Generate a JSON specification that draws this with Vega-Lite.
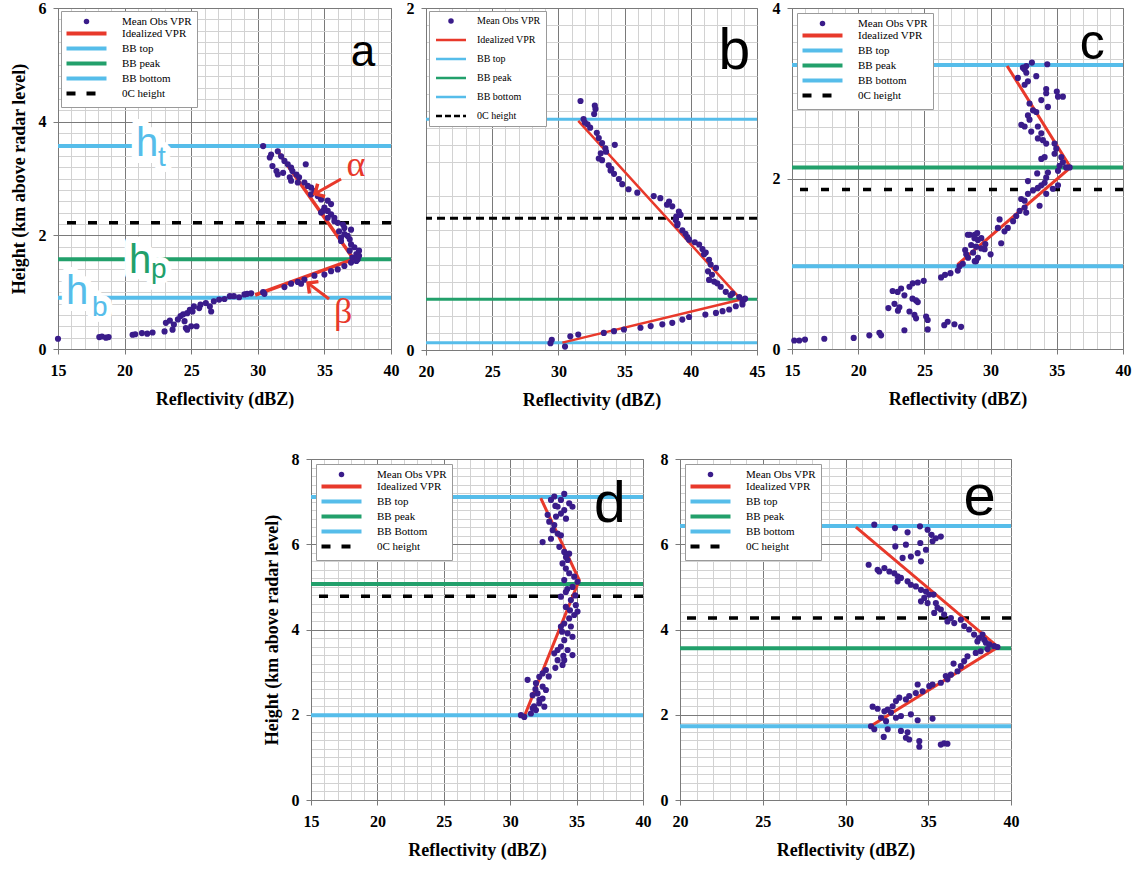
{
"$schema": "https://vega.github.io/schema/vega-lite/v6.json",
"background": "white",
"padding": {"left": 9, "top": -1, "right": 0, "bottom": 0},
"datasets": {
"pts_a": [{"x":15.0,"y":0.18},{"x":18.1,"y":0.21},{"x":18.3,"y":0.22},{"x":18.6,"y":0.20},{"x":18.8,"y":0.21},{"x":20.6,"y":0.25},{"x":20.8,"y":0.26},{"x":21.3,"y":0.28},{"x":21.7,"y":0.27},{"x":22.1,"y":0.29},{"x":23.0,"y":0.31},{"x":23.1,"y":0.46},{"x":23.4,"y":0.50},{"x":23.7,"y":0.43},{"x":23.6,"y":0.34},{"x":24.0,"y":0.52},{"x":24.2,"y":0.58},{"x":24.5,"y":0.49},{"x":24.6,"y":0.37},{"x":24.7,"y":0.34},{"x":25.0,"y":0.40},{"x":25.4,"y":0.40},{"x":24.4,"y":0.61},{"x":24.7,"y":0.63},{"x":24.9,"y":0.69},{"x":25.1,"y":0.66},{"x":25.2,"y":0.75},{"x":25.6,"y":0.72},{"x":25.7,"y":0.78},{"x":26.1,"y":0.81},{"x":26.4,"y":0.75},{"x":26.5,"y":0.66},{"x":26.7,"y":0.84},{"x":27.1,"y":0.87},{"x":27.5,"y":0.88},{"x":27.9,"y":0.93},{"x":28.2,"y":0.93},{"x":28.6,"y":0.91},{"x":29.0,"y":0.96},{"x":29.2,"y":0.97},{"x":29.5,"y":0.98},{"x":30.4,"y":1.0},{"x":30.5,"y":0.97},{"x":32.0,"y":1.09},{"x":32.5,"y":1.15},{"x":33.0,"y":1.18},{"x":33.25,"y":1.15},{"x":33.5,"y":1.22},{"x":34.25,"y":1.29},{"x":35.0,"y":1.31},{"x":35.5,"y":1.37},{"x":36.0,"y":1.40},{"x":36.5,"y":1.46},{"x":37.0,"y":1.52},{"x":37.1,"y":1.61},{"x":37.4,"y":1.67},{"x":37.6,"y":1.73},{"x":37.25,"y":1.79},{"x":37.0,"y":1.84},{"x":36.9,"y":1.93},{"x":36.75,"y":1.99},{"x":36.5,"y":2.02},{"x":36.25,"y":1.96},{"x":36.1,"y":2.07},{"x":36.5,"y":2.13},{"x":37.0,"y":2.10},{"x":36.4,"y":2.19},{"x":36.0,"y":2.22},{"x":35.75,"y":2.31},{"x":35.5,"y":2.37},{"x":35.25,"y":2.43},{"x":35.0,"y":2.49},{"x":35.5,"y":2.55},{"x":35.25,"y":2.61},{"x":34.9,"y":2.43},{"x":34.75,"y":2.63},{"x":34.5,"y":2.69},{"x":34.25,"y":2.78},{"x":34.0,"y":2.84},{"x":33.75,"y":2.87},{"x":33.5,"y":2.93},{"x":33.1,"y":3.02},{"x":32.9,"y":3.07},{"x":32.6,"y":3.13},{"x":32.5,"y":3.19},{"x":32.25,"y":3.25},{"x":32.0,"y":3.31},{"x":31.75,"y":3.39},{"x":31.5,"y":3.48},{"x":31.0,"y":3.42},{"x":30.9,"y":3.37},{"x":31.1,"y":3.22},{"x":31.5,"y":3.07},{"x":31.4,"y":3.13},{"x":31.9,"y":3.10},{"x":32.4,"y":3.02},{"x":33.6,"y":3.25},{"x":30.4,"y":3.57},{"x":32.5,"y":2.96},{"x":33.0,"y":2.93},{"x":34.0,"y":2.72},{"x":34.75,"y":2.40},{"x":35.25,"y":2.31},{"x":35.75,"y":2.25},{"x":36.25,"y":1.90},{"x":36.9,"y":1.73},{"x":37.5,"y":1.58},{"x":37.6,"y":1.64},{"x":37.4,"y":1.55}],
"vpr_a": [{"x":31.4,"y":3.51},{"x":37.2,"y":1.58},{"x":29.8,"y":0.95}],
"lines_a": [{"series":"BB top","y":3.57},{"series":"BB peak","y":1.58},{"series":"BB bottom","y":0.90},{"series":"0C height","y":2.22}],
"pts_b": [{"x":31.67,"y":1.456},{"x":32.75,"y":1.43},{"x":32.8,"y":1.41},{"x":32.7,"y":1.38},{"x":31.9,"y":1.35},{"x":32.0,"y":1.33},{"x":32.4,"y":1.30},{"x":32.9,"y":1.27},{"x":33.05,"y":1.24},{"x":33.3,"y":1.21},{"x":33.55,"y":1.18},{"x":34.26,"y":1.20},{"x":33.2,"y":1.15},{"x":33.05,"y":1.12},{"x":33.3,"y":1.11},{"x":33.8,"y":1.08},{"x":33.94,"y":1.05},{"x":34.2,"y":1.03},{"x":34.57,"y":1.00},{"x":34.82,"y":0.97},{"x":35.3,"y":0.94},{"x":35.96,"y":0.92},{"x":37.2,"y":0.90},{"x":37.7,"y":0.888},{"x":38.36,"y":0.868},{"x":38.6,"y":0.84},{"x":39.1,"y":0.81},{"x":39.23,"y":0.79},{"x":38.86,"y":0.76},{"x":38.98,"y":0.73},{"x":39.36,"y":0.70},{"x":39.74,"y":0.66},{"x":39.87,"y":0.645},{"x":40.63,"y":0.617},{"x":40.88,"y":0.59},{"x":41.13,"y":0.57},{"x":41.38,"y":0.528},{"x":41.5,"y":0.50},{"x":41.9,"y":0.48},{"x":41.6,"y":0.44},{"x":41.38,"y":0.41},{"x":41.76,"y":0.40},{"x":42.26,"y":0.37},{"x":42.64,"y":0.34},{"x":43.15,"y":0.33},{"x":43.66,"y":0.31},{"x":44.0,"y":0.295},{"x":43.9,"y":0.266},{"x":43.4,"y":0.256},{"x":42.9,"y":0.237},{"x":42.4,"y":0.227},{"x":41.9,"y":0.217},{"x":41.1,"y":0.207},{"x":39.87,"y":0.193},{"x":39.36,"y":0.178},{"x":38.6,"y":0.159},{"x":37.85,"y":0.15},{"x":36.97,"y":0.14},{"x":36.2,"y":0.13},{"x":34.95,"y":0.12},{"x":34.2,"y":0.11},{"x":33.43,"y":0.10},{"x":31.5,"y":0.09},{"x":30.9,"y":0.08},{"x":29.5,"y":0.06},{"x":29.4,"y":0.04},{"x":30.5,"y":0.02},{"x":32.2,"y":1.32},{"x":33.6,"y":1.16},{"x":34.0,"y":1.06},{"x":38.2,"y":0.85},{"x":39.6,"y":0.68},{"x":40.3,"y":0.63},{"x":41.0,"y":0.56},{"x":41.3,"y":0.46},{"x":42.0,"y":0.39},{"x":43.0,"y":0.32},{"x":43.9,"y":0.28},{"x":44.1,"y":0.30},{"x":39.0,"y":0.74},{"x":38.9,"y":0.78}],
"vpr_b": [{"x":31.5,"y":1.34},{"x":43.8,"y":0.295},{"x":30.3,"y":0.043}],
"lines_b": [{"series":"BB top","y":1.35},{"series":"BB peak","y":0.297},{"series":"BB bottom","y":0.043},{"series":"0C height","y":0.77}],
"pts_c": [{"x":15.17,"y":0.10},{"x":15.55,"y":0.10},{"x":15.98,"y":0.11},{"x":17.44,"y":0.12},{"x":19.66,"y":0.13},{"x":20.84,"y":0.16},{"x":21.6,"y":0.19},{"x":21.73,"y":0.16},{"x":23.49,"y":0.22},{"x":25.25,"y":0.23},{"x":25.25,"y":0.34},{"x":25.13,"y":0.38},{"x":24.25,"y":0.40},{"x":24.37,"y":0.36},{"x":23.87,"y":0.44},{"x":23.0,"y":0.45},{"x":23.11,"y":0.49},{"x":22.74,"y":0.53},{"x":22.28,"y":0.48},{"x":24.37,"y":0.57},{"x":24.1,"y":0.59},{"x":24.5,"y":0.55},{"x":23.49,"y":0.63},{"x":22.98,"y":0.67},{"x":22.6,"y":0.68},{"x":23.24,"y":0.71},{"x":23.87,"y":0.73},{"x":24.12,"y":0.77},{"x":24.5,"y":0.78},{"x":24.95,"y":0.80},{"x":26.5,"y":0.28},{"x":26.76,"y":0.32},{"x":27.27,"y":0.29},{"x":27.77,"y":0.26},{"x":26.26,"y":0.84},{"x":26.56,"y":0.87},{"x":26.97,"y":0.89},{"x":27.52,"y":0.92},{"x":27.65,"y":0.97},{"x":27.9,"y":1.0},{"x":28.3,"y":1.07},{"x":28.68,"y":1.13},{"x":28.43,"y":1.34},{"x":28.8,"y":1.34},{"x":29.04,"y":1.28},{"x":29.3,"y":1.30},{"x":28.9,"y":1.03},{"x":29.55,"y":1.17},{"x":28.28,"y":1.34},{"x":28.99,"y":1.36},{"x":28.78,"y":1.30},{"x":28.53,"y":1.22},{"x":28.08,"y":1.16},{"x":28.16,"y":1.11},{"x":28.9,"y":1.20},{"x":29.29,"y":1.18},{"x":29.6,"y":1.23},{"x":30.0,"y":1.11},{"x":28.8,"y":1.03},{"x":29.04,"y":1.07},{"x":30.68,"y":1.52},{"x":30.8,"y":1.24},{"x":30.55,"y":1.42},{"x":31.05,"y":1.38},{"x":31.3,"y":1.42},{"x":31.7,"y":1.50},{"x":31.94,"y":1.56},{"x":32.19,"y":1.62},{"x":32.57,"y":1.66},{"x":32.69,"y":1.60},{"x":32.31,"y":1.76},{"x":32.57,"y":1.74},{"x":32.82,"y":1.82},{"x":33.7,"y":1.68},{"x":33.2,"y":1.86},{"x":33.57,"y":1.89},{"x":33.83,"y":1.92},{"x":34.08,"y":1.95},{"x":34.2,"y":2.01},{"x":34.33,"y":2.07},{"x":34.2,"y":1.82},{"x":34.7,"y":1.88},{"x":35.09,"y":1.92},{"x":32.82,"y":1.97},{"x":33.52,"y":2.06},{"x":35.09,"y":2.09},{"x":35.21,"y":2.15},{"x":35.46,"y":2.19},{"x":35.7,"y":2.13},{"x":35.97,"y":2.13},{"x":35.34,"y":2.25},{"x":34.83,"y":2.29},{"x":34.96,"y":2.35},{"x":34.83,"y":2.41},{"x":34.08,"y":2.25},{"x":33.83,"y":2.23},{"x":34.2,"y":2.41},{"x":33.95,"y":2.45},{"x":33.57,"y":2.47},{"x":33.83,"y":2.53},{"x":33.07,"y":2.55},{"x":33.57,"y":2.61},{"x":32.57,"y":2.61},{"x":32.32,"y":2.63},{"x":32.94,"y":2.69},{"x":32.82,"y":2.74},{"x":33.45,"y":2.78},{"x":33.2,"y":2.80},{"x":32.94,"y":2.88},{"x":33.83,"y":2.92},{"x":34.33,"y":2.84},{"x":35.09,"y":2.96},{"x":35.46,"y":2.96},{"x":35.0,"y":3.02},{"x":34.2,"y":3.0},{"x":34.2,"y":3.05},{"x":32.57,"y":3.10},{"x":32.82,"y":3.14},{"x":32.06,"y":3.18},{"x":33.45,"y":3.20},{"x":32.7,"y":3.24},{"x":32.57,"y":3.28},{"x":32.7,"y":3.32},{"x":32.44,"y":3.30},{"x":33.12,"y":3.36},{"x":34.28,"y":3.34}],
"vpr_c": [{"x":31.25,"y":3.32},{"x":36.04,"y":2.13},{"x":27.5,"y":0.99}],
"lines_c": [{"series":"BB top","y":3.33},{"series":"BB peak","y":2.13},{"series":"BB bottom","y":0.97},{"series":"0C height","y":1.87}],
"pts_d": [{"x":33.32,"y":7.12},{"x":34.07,"y":7.18},{"x":33.82,"y":7.04},{"x":34.44,"y":6.96},{"x":34.69,"y":6.88},{"x":33.07,"y":7.04},{"x":33.57,"y":6.88},{"x":34.07,"y":6.80},{"x":33.82,"y":6.72},{"x":33.45,"y":6.65},{"x":32.82,"y":6.69},{"x":32.94,"y":6.53},{"x":33.32,"y":6.45},{"x":33.2,"y":6.33},{"x":33.57,"y":6.25},{"x":33.82,"y":6.21},{"x":33.07,"y":6.13},{"x":32.44,"y":6.05},{"x":33.7,"y":5.94},{"x":34.07,"y":5.82},{"x":34.44,"y":5.78},{"x":34.32,"y":5.63},{"x":33.94,"y":5.55},{"x":34.19,"y":5.43},{"x":34.44,"y":5.32},{"x":34.82,"y":5.24},{"x":35.07,"y":5.12},{"x":34.69,"y":5.00},{"x":34.07,"y":5.16},{"x":34.19,"y":4.88},{"x":33.82,"y":4.77},{"x":34.57,"y":4.69},{"x":34.94,"y":4.57},{"x":35.07,"y":4.42},{"x":34.82,"y":4.34},{"x":34.44,"y":4.26},{"x":34.19,"y":4.53},{"x":34.07,"y":4.14},{"x":34.57,"y":4.07},{"x":33.82,"y":4.07},{"x":34.32,"y":3.91},{"x":34.69,"y":3.83},{"x":34.07,"y":3.75},{"x":33.82,"y":3.60},{"x":33.57,"y":3.52},{"x":34.32,"y":3.52},{"x":34.69,"y":3.40},{"x":33.32,"y":3.44},{"x":33.57,"y":3.28},{"x":34.07,"y":3.28},{"x":33.94,"y":3.17},{"x":32.69,"y":3.05},{"x":32.44,"y":2.97},{"x":32.19,"y":2.89},{"x":31.31,"y":2.82},{"x":31.94,"y":2.74},{"x":32.44,"y":2.66},{"x":32.69,"y":2.58},{"x":32.06,"y":2.50},{"x":31.69,"y":2.46},{"x":32.44,"y":2.38},{"x":32.19,"y":2.27},{"x":32.57,"y":2.19},{"x":31.94,"y":2.11},{"x":31.56,"y":2.03},{"x":31.06,"y":1.95},{"x":30.81,"y":1.99},{"x":31.69,"y":2.15},{"x":34.3,"y":4.95},{"x":34.9,"y":4.8},{"x":34.5,"y":4.45},{"x":33.9,"y":3.95},{"x":34.0,"y":3.38},{"x":33.4,"y":3.1},{"x":32.9,"y":2.9},{"x":31.9,"y":2.6},{"x":32.2,"y":2.35},{"x":31.8,"y":2.2},{"x":34.2,"y":5.7},{"x":33.4,"y":6.9},{"x":34.2,"y":6.6}],
"vpr_d": [{"x":32.3,"y":7.08},{"x":35.2,"y":5.16},{"x":31.1,"y":1.99}],
"lines_d": [{"series":"BB top","y":7.11},{"series":"BB peak","y":5.07},{"series":"BB Bottom","y":1.99},{"series":"0C height","y":4.78}],
"pts_e": [{"x":31.74,"y":6.46},{"x":32.99,"y":6.38},{"x":33.75,"y":6.28},{"x":34.5,"y":6.42},{"x":34.96,"y":6.34},{"x":35.2,"y":6.22},{"x":35.46,"y":6.14},{"x":35.76,"y":6.18},{"x":35.26,"y":6.07},{"x":33.01,"y":5.95},{"x":33.65,"y":5.99},{"x":34.52,"y":6.03},{"x":34.86,"y":5.87},{"x":34.36,"y":5.79},{"x":33.95,"y":5.71},{"x":33.45,"y":5.68},{"x":34.56,"y":5.6},{"x":31.4,"y":5.52},{"x":31.94,"y":5.40},{"x":32.04,"y":5.36},{"x":32.35,"y":5.44},{"x":32.65,"y":5.36},{"x":32.95,"y":5.32},{"x":33.15,"y":5.25},{"x":33.35,"y":5.21},{"x":33.15,"y":5.13},{"x":33.75,"y":5.13},{"x":33.95,"y":5.05},{"x":34.25,"y":5.01},{"x":34.56,"y":4.93},{"x":34.86,"y":4.89},{"x":35.06,"y":4.82},{"x":35.32,"y":4.82},{"x":34.76,"y":4.74},{"x":34.56,"y":4.66},{"x":34.96,"y":4.62},{"x":35.46,"y":4.62},{"x":35.56,"y":4.51},{"x":35.76,"y":4.47},{"x":35.36,"y":4.39},{"x":35.96,"y":4.35},{"x":36.37,"y":4.27},{"x":36.16,"y":4.19},{"x":36.57,"y":4.15},{"x":36.97,"y":4.23},{"x":37.17,"y":4.08},{"x":37.47,"y":4.0},{"x":37.77,"y":3.88},{"x":38.07,"y":3.80},{"x":38.28,"y":3.88},{"x":38.38,"y":3.76},{"x":37.97,"y":3.72},{"x":38.48,"y":3.69},{"x":38.68,"y":3.65},{"x":38.98,"y":3.61},{"x":39.18,"y":3.59},{"x":38.58,"y":3.54},{"x":38.17,"y":3.49},{"x":37.87,"y":3.45},{"x":37.37,"y":3.37},{"x":37.17,"y":3.26},{"x":36.97,"y":3.14},{"x":36.53,"y":3.20},{"x":36.77,"y":3.02},{"x":36.37,"y":2.94},{"x":36.06,"y":2.91},{"x":36.16,"y":2.83},{"x":35.76,"y":2.75},{"x":35.26,"y":2.71},{"x":35.06,"y":2.67},{"x":34.36,"y":2.71},{"x":34.66,"y":2.55},{"x":34.25,"y":2.51},{"x":33.85,"y":2.44},{"x":33.65,"y":2.36},{"x":33.25,"y":2.40},{"x":33.05,"y":2.32},{"x":32.85,"y":2.20},{"x":32.55,"y":2.12},{"x":32.75,"y":2.05},{"x":32.35,"y":2.08},{"x":31.94,"y":2.14},{"x":31.64,"y":2.19},{"x":33.05,"y":1.93},{"x":33.35,"y":1.97},{"x":33.95,"y":2.01},{"x":34.36,"y":1.87},{"x":35.26,"y":1.91},{"x":32.45,"y":1.85},{"x":32.15,"y":1.93},{"x":31.54,"y":1.73},{"x":31.74,"y":1.66},{"x":32.55,"y":1.66},{"x":32.31,"y":1.48},{"x":33.35,"y":1.62},{"x":33.75,"y":1.59},{"x":33.65,"y":1.46},{"x":33.85,"y":1.42},{"x":34.46,"y":1.38},{"x":34.46,"y":1.25},{"x":35.76,"y":1.30},{"x":35.96,"y":1.33},{"x":36.16,"y":1.32}],
"vpr_e": [{"x":30.63,"y":6.40},{"x":39.22,"y":3.59},{"x":31.58,"y":1.75}],
"lines_e": [{"series":"BB top","y":6.43},{"series":"BB peak","y":3.56},{"series":"BB bottom","y":1.73},{"series":"0C height","y":4.27}],
"tags": [{"panel":"a","x":37.9,"y":4.98,"t":"a"},{"panel":"b","x":43.28,"y":1.644,"t":"b"},{"panel":"c","x":37.67,"y":3.40,"t":"c"},{"panel":"d","x":37.5,"y":6.52,"t":"d"},{"panel":"e","x":38.11,"y":6.69,"t":"e"}],
"hmain": [{"x":20.86,"y":3.396,"t":"h","series":"BB top"},{"x":20.33,"y":1.337,"t":"h","series":"BB peak"},{"x":15.6,"y":0.79,"t":"h","series":"BB bottom"}],
"hsub": [{"x":22.51,"y":3.22,"t":"t","series":"BB top"},{"x":21.98,"y":1.25,"t":"p","series":"BB peak"},{"x":17.55,"y":0.58,"t":"b","series":"BB bottom"}],
"arrows": [{"name":"alpha","x":36.25,"y":2.99,"x2":34.29,"y2":2.73,"tx":37.37,"ty":3.04,"t":"α"},{"name":"beta","x":35.35,"y":0.88,"x2":33.77,"y2":1.16,"tx":36.4,"ty":0.46,"t":"β"}]
},
"spacing": 40,
"resolve": {"scale": {"color": "independent"}, "legend": {"color": "independent"}},
"vconcat": [
{"hconcat": [
{"width": 333, "height": 341,
 "layer": [
  {"data": {"name": "pts_a"}, "mark": {"type": "point", "opacity": 0},
   "encoding": {"x": {"field": "x", "type": "quantitative", "scale": {"domain": [15, 40], "nice": false, "zero": false}, "axis": {"orient": "top", "values": [16,17,18,19,21,22,23,24,26,27,28,29,31,32,33,34,36,37,38,39], "grid": true, "gridColor": "#d2d2d2", "labels": false, "ticks": false, "domain": false, "title": null}},
    "y": {"field": "y", "type": "quantitative", "scale": {"domain": [0, 6], "nice": false, "zero": false}, "axis": {"orient": "right", "values": [0.2,0.4,0.6,0.8,1,1.2,1.4,1.6,1.8,2.2,2.4,2.6,2.8,3,3.2,3.4,3.6,3.8,4.2,4.4,4.6,4.8,5,5.2,5.4,5.6,5.8], "grid": true, "gridColor": "#d2d2d2", "labels": false, "ticks": false, "domain": false, "title": null}}}},
  {"data": {"name": "lines_a"}, "transform": [{"filter": "datum.series !== '0C height'"}], "mark": {"type": "rule", "strokeWidth": 4},
   "encoding": {"y": {"field": "y", "type": "quantitative", "axis": null}, "color": {"field": "series", "type": "nominal", "scale": {"domain": ["Mean Obs VPR","Idealized VPR","BB top","BB peak","BB bottom","0C height"], "range": ["#3a1c8a","#e8392b","#56bdea","#22a06b","#56bdea","#000000"]},
     "legend": {"orient":"top-left","offset":3,"title":null,"padding":5,"rowPadding":-2,"fillColor":"#ffffff","strokeColor":"#9a9a9a","labelFont":"Liberation Serif","labelFontSize":11,"labelColor":"#000000","symbolSize":100,"symbolOffset":15,"labelOffset":30,
      "encode":{"symbols":{"update":{"shape":{"signal":"datum.value==='Mean Obs VPR'?'circle':'M-4,0H4'"},"size":{"signal":"datum.value==='Mean Obs VPR'?30:100"},"fill":{"signal":"datum.value==='Mean Obs VPR'?'#3a1c8a':'transparent'"},"stroke":{"signal":"datum.value==='Mean Obs VPR'?'transparent':datum.value==='Idealized VPR'?'#e8392b':datum.value==='BB peak'?'#22a06b':datum.value==='0C height'?'#000000':'#56bdea'"},"strokeWidth":{"signal":"datum.value==='Mean Obs VPR'?0:4"},"strokeDash":{"signal":"datum.value==='0C height'?[9,11]:[1,0]"},"opacity":{"value":1}}}}}}}},
  {"data": {"name": "lines_a"}, "transform": [{"filter": "datum.series === '0C height'"}], "mark": {"type": "rule", "strokeWidth": 3.5, "strokeDash": [9, 12]},
   "encoding": {"y": {"field": "y", "type": "quantitative", "axis": null}, "color": {"field": "series", "type": "nominal"}}},
  {"data": {"name": "vpr_a"}, "mark": {"type": "line", "strokeWidth": 3.5},
   "encoding": {"x": {"field": "x", "type": "quantitative", "axis": null}, "y": {"field": "y", "type": "quantitative", "axis": null}, "order": {"field": "y", "type": "quantitative"}, "color": {"datum": "Idealized VPR", "type": "nominal"}}},
  {"data": {"name": "pts_a"}, "mark": {"type": "point", "filled": true, "size": 38, "opacity": 1},
   "encoding": {"x": {"field": "x", "type": "quantitative", "axis": {"values": [15,20,25,30,35,40], "format": "d", "grid": true, "title": "Reflectivity (dBZ)"}},
    "y": {"field": "y", "type": "quantitative", "axis": {"values": [0,2,4,6], "format": "d", "grid": true, "title": "Height (km above radar level)"}},
    "color": {"datum": "Mean Obs VPR", "type": "nominal"}}},
  {"data": {"name": "hmain"}, "mark": {"type": "text", "font": "Liberation Sans", "fontSize": 40, "align": "left", "baseline": "alphabetic", "fill": "white", "stroke": "white", "strokeWidth": 14, "strokeJoin": "round"},
   "encoding": {"x": {"field": "x", "type": "quantitative", "axis": null}, "y": {"field": "y", "type": "quantitative", "axis": null}, "text": {"field": "t"}}},
  {"data": {"name": "hsub"}, "mark": {"type": "text", "font": "Liberation Sans", "fontSize": 28, "align": "left", "baseline": "alphabetic", "fill": "white", "stroke": "white", "strokeWidth": 12, "strokeJoin": "round"},
   "encoding": {"x": {"field": "x", "type": "quantitative", "axis": null}, "y": {"field": "y", "type": "quantitative", "axis": null}, "text": {"field": "t"}}},
  {"data": {"name": "hmain"}, "mark": {"type": "text", "font": "Liberation Sans", "fontSize": 40, "align": "left", "baseline": "alphabetic"},
   "encoding": {"x": {"field": "x", "type": "quantitative", "axis": null}, "y": {"field": "y", "type": "quantitative", "axis": null}, "text": {"field": "t"}, "color": {"field": "series", "type": "nominal", "legend": null}}},
  {"data": {"name": "hsub"}, "mark": {"type": "text", "font": "Liberation Sans", "fontSize": 28, "align": "left", "baseline": "alphabetic"},
   "encoding": {"x": {"field": "x", "type": "quantitative", "axis": null}, "y": {"field": "y", "type": "quantitative", "axis": null}, "text": {"field": "t"}, "color": {"field": "series", "type": "nominal", "legend": null}}},
  {"data": {"name": "arrows"}, "mark": {"type": "rule", "color": "#e8392b", "strokeWidth": 3},
   "encoding": {"x": {"field": "x", "type": "quantitative", "axis": null}, "y": {"field": "y", "type": "quantitative", "axis": null}, "x2": {"field": "x2"}, "y2": {"field": "y2"}}},
  {"data": {"name": "arrows"}, "transform": [{"filter": "datum.name === 'alpha'"}], "mark": {"type": "point", "shape": "M-1,1L0,0L1,1", "filled": false, "color": "#e8392b", "strokeWidth": 3.5, "size": 220, "angle": 240, "opacity": 1},
   "encoding": {"x": {"field": "x2", "type": "quantitative", "axis": null}, "y": {"field": "y2", "type": "quantitative", "axis": null}}},
  {"data": {"name": "arrows"}, "transform": [{"filter": "datum.name === 'beta'"}], "mark": {"type": "point", "shape": "M-1,1L0,0L1,1", "filled": false, "color": "#e8392b", "strokeWidth": 3.5, "size": 220, "angle": 307, "opacity": 1},
   "encoding": {"x": {"field": "x2", "type": "quantitative", "axis": null}, "y": {"field": "y2", "type": "quantitative", "axis": null}}},
  {"data": {"name": "arrows"}, "mark": {"type": "text", "font": "Liberation Serif", "fontSize": 36, "align": "center", "baseline": "alphabetic", "color": "#e8392b"},
   "encoding": {"x": {"field": "tx", "type": "quantitative", "axis": null}, "y": {"field": "ty", "type": "quantitative", "axis": null}, "text": {"field": "t"}}},
  {"data": {"name": "tags"}, "transform": [{"filter": "datum.panel === 'a'"}], "mark": {"type": "text", "font": "Liberation Sans", "fontSize": 44, "align": "center", "baseline": "alphabetic", "color": "#000000"},
   "encoding": {"x": {"field": "x", "type": "quantitative", "axis": null}, "y": {"field": "y", "type": "quantitative", "axis": null}, "text": {"field": "t"}}}
 ],
 "resolve": {"axis": {"x": "independent", "y": "independent"}}
},
{"width": 331, "height": 342,
 "layer": [
  {"data": {"name": "pts_b"}, "mark": {"type": "point", "opacity": 0},
   "encoding": {"x": {"field": "x", "type": "quantitative", "scale": {"domain": [20, 45], "nice": false, "zero": false}, "axis": {"orient": "top", "values": [21,22,23,24,26,27,28,29,31,32,33,34,36,37,38,39,41,42,43,44], "grid": true, "gridColor": "#d2d2d2", "labels": false, "ticks": false, "domain": false, "title": null}},
    "y": {"field": "y", "type": "quantitative", "scale": {"domain": [0, 2], "nice": false, "zero": false}, "axis": {"orient": "right", "values": [0.1,0.2,0.3,0.4,0.5,0.6,0.7,0.8,0.9,1.1,1.2,1.3,1.4,1.5,1.6,1.7,1.8,1.9], "grid": true, "gridColor": "#d2d2d2", "labels": false, "ticks": false, "domain": false, "title": null}}}},
  {"data": {"name": "lines_b"}, "transform": [{"filter": "datum.series !== '0C height'"}], "mark": {"type": "rule", "strokeWidth": 3},
   "encoding": {"y": {"field": "y", "type": "quantitative", "axis": null}, "color": {"field": "series", "type": "nominal", "scale": {"domain": ["Mean Obs VPR","Idealized VPR","BB top","BB peak","BB bottom","0C height"], "range": ["#3a1c8a","#e8392b","#56bdea","#22a06b","#56bdea","#000000"]},
     "legend": {"orient":"top-left","offset":3,"title":null,"padding":5,"rowPadding":9,"fillColor":"#ffffff","strokeColor":"#9a9a9a","labelFont":"Liberation Serif","labelFontSize":10,"labelColor":"#000000","symbolSize":100,"symbolOffset":12,"labelOffset":21,
      "encode":{"symbols":{"update":{"shape":{"signal":"datum.value==='Mean Obs VPR'?'circle':'M-3,0H3'"},"size":{"signal":"datum.value==='Mean Obs VPR'?30:100"},"fill":{"signal":"datum.value==='Mean Obs VPR'?'#3a1c8a':'transparent'"},"stroke":{"signal":"datum.value==='Mean Obs VPR'?'transparent':datum.value==='Idealized VPR'?'#e8392b':datum.value==='BB peak'?'#22a06b':datum.value==='0C height'?'#000000':'#56bdea'"},"strokeWidth":{"signal":"datum.value==='Mean Obs VPR'?0:2.5"},"strokeDash":{"signal":"datum.value==='0C height'?[6,3]:[1,0]"},"opacity":{"value":1}}}}}}}},
  {"data": {"name": "lines_b"}, "transform": [{"filter": "datum.series === '0C height'"}], "mark": {"type": "rule", "strokeWidth": 3, "strokeDash": [8, 5]},
   "encoding": {"y": {"field": "y", "type": "quantitative", "axis": null}, "color": {"field": "series", "type": "nominal"}}},
  {"data": {"name": "vpr_b"}, "mark": {"type": "line", "strokeWidth": 2.5},
   "encoding": {"x": {"field": "x", "type": "quantitative", "axis": null}, "y": {"field": "y", "type": "quantitative", "axis": null}, "order": {"field": "y", "type": "quantitative"}, "color": {"datum": "Idealized VPR", "type": "nominal"}}},
  {"data": {"name": "pts_b"}, "mark": {"type": "point", "filled": true, "size": 38, "opacity": 1},
   "encoding": {"x": {"field": "x", "type": "quantitative", "axis": {"values": [20,25,30,35,40,45], "format": "d", "grid": true, "title": "Reflectivity (dBZ)"}},
    "y": {"field": "y", "type": "quantitative", "axis": {"values": [0,1,2], "format": "d", "grid": true, "title": null}},
    "color": {"datum": "Mean Obs VPR", "type": "nominal"}}},
  {"data": {"name": "tags"}, "transform": [{"filter": "datum.panel === 'b'"}], "mark": {"type": "text", "font": "Liberation Sans", "fontSize": 57, "align": "center", "baseline": "alphabetic", "color": "#000000"},
   "encoding": {"x": {"field": "x", "type": "quantitative", "axis": null}, "y": {"field": "y", "type": "quantitative", "axis": null}, "text": {"field": "t"}}}
 ],
 "resolve": {"axis": {"x": "independent", "y": "independent"}}
},
{"width": 331, "height": 341,
 "layer": [
  {"data": {"name": "pts_c"}, "mark": {"type": "point", "opacity": 0},
   "encoding": {"x": {"field": "x", "type": "quantitative", "scale": {"domain": [15, 40], "nice": false, "zero": false}, "axis": {"orient": "top", "values": [16,17,18,19,21,22,23,24,26,27,28,29,31,32,33,34,36,37,38,39], "grid": true, "gridColor": "#d2d2d2", "labels": false, "ticks": false, "domain": false, "title": null}},
    "y": {"field": "y", "type": "quantitative", "scale": {"domain": [0, 4], "nice": false, "zero": false}, "axis": {"orient": "right", "values": [0.2,0.4,0.6,0.8,1,1.2,1.4,1.6,1.8,2.2,2.4,2.6,2.8,3,3.2,3.4,3.6,3.8], "grid": true, "gridColor": "#d2d2d2", "labels": false, "ticks": false, "domain": false, "title": null}}}},
  {"data": {"name": "lines_c"}, "transform": [{"filter": "datum.series !== '0C height'"}], "mark": {"type": "rule", "strokeWidth": 4},
   "encoding": {"y": {"field": "y", "type": "quantitative", "axis": null}, "color": {"field": "series", "type": "nominal", "scale": {"domain": ["Mean Obs VPR","Idealized VPR","BB top","BB peak","BB bottom","0C height"], "range": ["#3a1c8a","#e8392b","#56bdea","#22a06b","#56bdea","#000000"]},
     "legend": {"orient":"top-left","offset":5,"title":null,"padding":5,"rowPadding":-2,"fillColor":"#ffffff","strokeColor":"#9a9a9a","labelFont":"Liberation Serif","labelFontSize":11,"labelColor":"#000000","symbolSize":100,"symbolOffset":15,"labelOffset":30,
      "encode":{"symbols":{"update":{"shape":{"signal":"datum.value==='Mean Obs VPR'?'circle':'M-4,0H4'"},"size":{"signal":"datum.value==='Mean Obs VPR'?30:100"},"fill":{"signal":"datum.value==='Mean Obs VPR'?'#3a1c8a':'transparent'"},"stroke":{"signal":"datum.value==='Mean Obs VPR'?'transparent':datum.value==='Idealized VPR'?'#e8392b':datum.value==='BB peak'?'#22a06b':datum.value==='0C height'?'#000000':'#56bdea'"},"strokeWidth":{"signal":"datum.value==='Mean Obs VPR'?0:4"},"strokeDash":{"signal":"datum.value==='0C height'?[9,11]:[1,0]"},"opacity":{"value":1}}}}}}}},
  {"data": {"name": "lines_c"}, "transform": [{"filter": "datum.series === '0C height'"}], "mark": {"type": "rule", "strokeWidth": 3.5, "strokeDash": [8, 13]},
   "encoding": {"y": {"field": "y", "type": "quantitative", "axis": null}, "color": {"field": "series", "type": "nominal"}}},
  {"data": {"name": "vpr_c"}, "mark": {"type": "line", "strokeWidth": 3},
   "encoding": {"x": {"field": "x", "type": "quantitative", "axis": null}, "y": {"field": "y", "type": "quantitative", "axis": null}, "order": {"field": "y", "type": "quantitative"}, "color": {"datum": "Idealized VPR", "type": "nominal"}}},
  {"data": {"name": "pts_c"}, "mark": {"type": "point", "filled": true, "size": 38, "opacity": 1},
   "encoding": {"x": {"field": "x", "type": "quantitative", "axis": {"values": [15,20,25,30,35,40], "format": "d", "grid": true, "title": "Reflectivity (dBZ)"}},
    "y": {"field": "y", "type": "quantitative", "axis": {"values": [0,2,4], "format": "d", "grid": true, "title": null}},
    "color": {"datum": "Mean Obs VPR", "type": "nominal"}}},
  {"data": {"name": "tags"}, "transform": [{"filter": "datum.panel === 'c'"}], "mark": {"type": "text", "font": "Liberation Sans", "fontSize": 50, "align": "center", "baseline": "alphabetic", "color": "#000000"},
   "encoding": {"x": {"field": "x", "type": "quantitative", "axis": null}, "y": {"field": "y", "type": "quantitative", "axis": null}, "text": {"field": "t"}}}
 ],
 "resolve": {"axis": {"x": "independent", "y": "independent"}}
}
], "spacing": 35, "bounds": "flush", "resolve": {"scale": {"color": "independent"}, "legend": {"color": "independent"}}},
{"hconcat": [
{"width": 216, "height": 341, "data": {"values": []}, "mark": {"type": "point", "opacity": 0}, "view": {"stroke": null}},
{"width": 332, "height": 341,
 "layer": [
  {"data": {"name": "pts_d"}, "mark": {"type": "point", "opacity": 0},
   "encoding": {"x": {"field": "x", "type": "quantitative", "scale": {"domain": [15, 40], "nice": false, "zero": false}, "axis": {"orient": "top", "values": [16,17,18,19,21,22,23,24,26,27,28,29,31,32,33,34,36,37,38,39], "grid": true, "gridColor": "#d2d2d2", "labels": false, "ticks": false, "domain": false, "title": null}},
    "y": {"field": "y", "type": "quantitative", "scale": {"domain": [0, 8], "nice": false, "zero": false}, "axis": {"orient": "right", "values": [0.2,0.4,0.6,0.8,1,1.2,1.4,1.6,1.8,2.2,2.4,2.6,2.8,3,3.2,3.4,3.6,3.8,4.2,4.4,4.6,4.8,5,5.2,5.4,5.6,5.8,6.2,6.4,6.6,6.8,7,7.2,7.4,7.6,7.8], "grid": true, "gridColor": "#d2d2d2", "labels": false, "ticks": false, "domain": false, "title": null}}}},
  {"data": {"name": "lines_d"}, "transform": [{"filter": "datum.series !== '0C height'"}], "mark": {"type": "rule", "strokeWidth": 4},
   "encoding": {"y": {"field": "y", "type": "quantitative", "axis": null}, "color": {"field": "series", "type": "nominal", "scale": {"domain": ["Mean Obs VPR","Idealized VPR","BB top","BB peak","BB Bottom","0C height"], "range": ["#3a1c8a","#e8392b","#56bdea","#22a06b","#56bdea","#000000"]},
     "legend": {"orient":"top-left","offset":5,"title":null,"padding":5,"rowPadding":-2,"fillColor":"#ffffff","strokeColor":"#9a9a9a","labelFont":"Liberation Serif","labelFontSize":11,"labelColor":"#000000","symbolSize":100,"symbolOffset":15,"labelOffset":30,
      "encode":{"symbols":{"update":{"shape":{"signal":"datum.value==='Mean Obs VPR'?'circle':'M-4,0H4'"},"size":{"signal":"datum.value==='Mean Obs VPR'?30:100"},"fill":{"signal":"datum.value==='Mean Obs VPR'?'#3a1c8a':'transparent'"},"stroke":{"signal":"datum.value==='Mean Obs VPR'?'transparent':datum.value==='Idealized VPR'?'#e8392b':datum.value==='BB peak'?'#22a06b':datum.value==='0C height'?'#000000':'#56bdea'"},"strokeWidth":{"signal":"datum.value==='Mean Obs VPR'?0:4"},"strokeDash":{"signal":"datum.value==='0C height'?[9,11]:[1,0]"},"opacity":{"value":1}}}}}}}},
  {"data": {"name": "lines_d"}, "transform": [{"filter": "datum.series === '0C height'"}], "mark": {"type": "rule", "strokeWidth": 3.5, "strokeDash": [9, 12]},
   "encoding": {"y": {"field": "y", "type": "quantitative", "axis": null}, "color": {"field": "series", "type": "nominal"}}},
  {"data": {"name": "vpr_d"}, "mark": {"type": "line", "strokeWidth": 3},
   "encoding": {"x": {"field": "x", "type": "quantitative", "axis": null}, "y": {"field": "y", "type": "quantitative", "axis": null}, "order": {"field": "y", "type": "quantitative"}, "color": {"datum": "Idealized VPR", "type": "nominal"}}},
  {"data": {"name": "pts_d"}, "mark": {"type": "point", "filled": true, "size": 38, "opacity": 1},
   "encoding": {"x": {"field": "x", "type": "quantitative", "axis": {"values": [15,20,25,30,35,40], "format": "d", "grid": true, "title": "Reflectivity (dBZ)"}},
    "y": {"field": "y", "type": "quantitative", "axis": {"values": [0,2,4,6,8], "format": "d", "grid": true, "title": "Height (km above radar level)"}},
    "color": {"datum": "Mean Obs VPR", "type": "nominal"}}},
  {"data": {"name": "tags"}, "transform": [{"filter": "datum.panel === 'd'"}], "mark": {"type": "text", "font": "Liberation Sans", "fontSize": 57, "align": "center", "baseline": "alphabetic", "color": "#000000"},
   "encoding": {"x": {"field": "x", "type": "quantitative", "axis": null}, "y": {"field": "y", "type": "quantitative", "axis": null}, "text": {"field": "t"}}}
 ],
 "resolve": {"axis": {"x": "independent", "y": "independent"}}
},
{"width": 331, "height": 341,
 "layer": [
  {"data": {"name": "pts_e"}, "mark": {"type": "point", "opacity": 0},
   "encoding": {"x": {"field": "x", "type": "quantitative", "scale": {"domain": [20, 40], "nice": false, "zero": false}, "axis": {"orient": "top", "values": [21,22,23,24,26,27,28,29,31,32,33,34,36,37,38,39], "grid": true, "gridColor": "#d2d2d2", "labels": false, "ticks": false, "domain": false, "title": null}},
    "y": {"field": "y", "type": "quantitative", "scale": {"domain": [0, 8], "nice": false, "zero": false}, "axis": {"orient": "right", "values": [0.2,0.4,0.6,0.8,1,1.2,1.4,1.6,1.8,2.2,2.4,2.6,2.8,3,3.2,3.4,3.6,3.8,4.2,4.4,4.6,4.8,5,5.2,5.4,5.6,5.8,6.2,6.4,6.6,6.8,7,7.2,7.4,7.6,7.8], "grid": true, "gridColor": "#d2d2d2", "labels": false, "ticks": false, "domain": false, "title": null}}}},
  {"data": {"name": "lines_e"}, "transform": [{"filter": "datum.series !== '0C height'"}], "mark": {"type": "rule", "strokeWidth": 4},
   "encoding": {"y": {"field": "y", "type": "quantitative", "axis": null}, "color": {"field": "series", "type": "nominal", "scale": {"domain": ["Mean Obs VPR","Idealized VPR","BB top","BB peak","BB bottom","0C height"], "range": ["#3a1c8a","#e8392b","#56bdea","#22a06b","#56bdea","#000000"]},
     "legend": {"orient":"top-left","offset":5,"title":null,"padding":5,"rowPadding":-2,"fillColor":"#ffffff","strokeColor":"#9a9a9a","labelFont":"Liberation Serif","labelFontSize":11,"labelColor":"#000000","symbolSize":100,"symbolOffset":15,"labelOffset":30,
      "encode":{"symbols":{"update":{"shape":{"signal":"datum.value==='Mean Obs VPR'?'circle':'M-4,0H4'"},"size":{"signal":"datum.value==='Mean Obs VPR'?30:100"},"fill":{"signal":"datum.value==='Mean Obs VPR'?'#3a1c8a':'transparent'"},"stroke":{"signal":"datum.value==='Mean Obs VPR'?'transparent':datum.value==='Idealized VPR'?'#e8392b':datum.value==='BB peak'?'#22a06b':datum.value==='0C height'?'#000000':'#56bdea'"},"strokeWidth":{"signal":"datum.value==='Mean Obs VPR'?0:4"},"strokeDash":{"signal":"datum.value==='0C height'?[9,11]:[1,0]"},"opacity":{"value":1}}}}}}}},
  {"data": {"name": "lines_e"}, "transform": [{"filter": "datum.series === '0C height'"}], "mark": {"type": "rule", "strokeWidth": 3.5, "strokeDash": [9, 12]},
   "encoding": {"y": {"field": "y", "type": "quantitative", "axis": null}, "color": {"field": "series", "type": "nominal"}}},
  {"data": {"name": "vpr_e"}, "mark": {"type": "line", "strokeWidth": 3},
   "encoding": {"x": {"field": "x", "type": "quantitative", "axis": null}, "y": {"field": "y", "type": "quantitative", "axis": null}, "order": {"field": "y", "type": "quantitative"}, "color": {"datum": "Idealized VPR", "type": "nominal"}}},
  {"data": {"name": "pts_e"}, "mark": {"type": "point", "filled": true, "size": 38, "opacity": 1},
   "encoding": {"x": {"field": "x", "type": "quantitative", "axis": {"values": [20,25,30,35,40], "format": "d", "grid": true, "title": "Reflectivity (dBZ)"}},
    "y": {"field": "y", "type": "quantitative", "axis": {"values": [0,2,4,6,8], "format": "d", "grid": true, "title": null}},
    "color": {"datum": "Mean Obs VPR", "type": "nominal"}}},
  {"data": {"name": "tags"}, "transform": [{"filter": "datum.panel === 'e'"}], "mark": {"type": "text", "font": "Liberation Sans", "fontSize": 58, "align": "center", "baseline": "alphabetic", "color": "#000000"},
   "encoding": {"x": {"field": "x", "type": "quantitative", "axis": null}, "y": {"field": "y", "type": "quantitative", "axis": null}, "text": {"field": "t"}}}
 ],
 "resolve": {"axis": {"x": "independent", "y": "independent"}}
}
], "spacing": 37, "bounds": "flush", "resolve": {"scale": {"color": "independent"}, "legend": {"color": "independent"}}}
],
"config": {
 "view": {"stroke": "#8a8a8a", "strokeWidth": 1},
 "axis": {"labelFont": "Liberation Serif", "labelFontWeight": "bold", "labelFontSize": 16, "labelColor": "#000000", "titleFont": "Liberation Serif", "titleFontWeight": "bold", "titleFontSize": 18, "titleColor": "#000000", "domainColor": "#7a7a7a", "tickColor": "#7a7a7a", "tickSize": 5, "gridColor": "#7a7a7a", "gridWidth": 1, "labelFlush": false, "labelOverlap": false},
 "axisX": {"labelPadding": 8, "titlePadding": 12},
 "axisY": {"labelPadding": 7, "titlePadding": 10}
}
}
